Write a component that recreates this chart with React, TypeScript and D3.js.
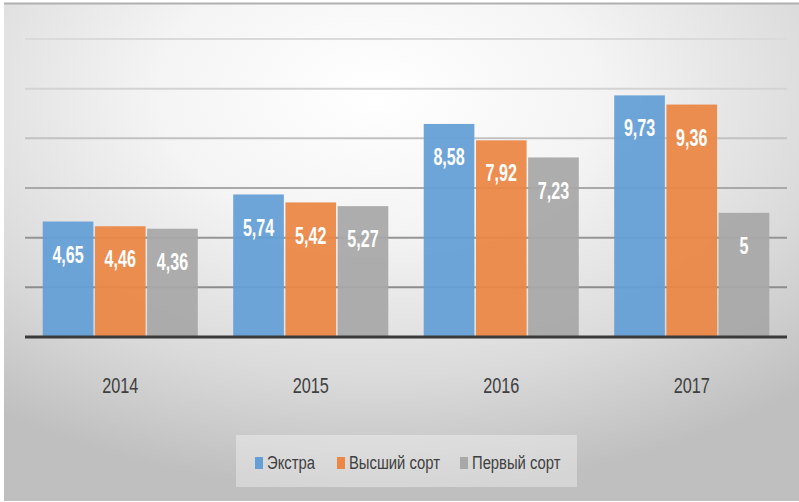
import React from "react";
import * as d3 from "d3";

const categories = ["2014", "2015", "2016", "2017"];
const seriesNames = ["Экстра", "Высший сорт", "Первый сорт"];
const extra = [4.65, 5.74, 8.58, 9.73];
const higher = [4.46, 5.42, 7.92, 9.36];
const first = [4.36, 5.27, 7.23, 5];
const gridTicks = [2, 4, 6, 8, 10, 12];
const colors = ["#659fd6", "#ec8746", "#a8a8a8"];
const gridColors = ["#8c8c8c", "#959595", "#a9a9a9", "#c2c2c2", "#d3d3d3", "#dadada"];

const W = 799;
const H = 502;
const FONT = "'Liberation Sans', Arial, sans-serif";

function NarrowText(props: {
  x: number;
  y: number;
  sx: number;
  anchor?: "start" | "middle" | "end";
  size: number;
  fill: string;
  bold?: boolean;
  children: React.ReactNode;
}) {
  return (
    <g transform={`translate(${props.x},${props.y}) scale(${props.sx},1)`}>
      <text
        x={0}
        y={0}
        textAnchor={props.anchor || "start"}
        dominantBaseline="central"
        fill={props.fill}
        fontWeight={props.bold ? "bold" : "normal"}
        fontSize={props.size}
      >
        {props.children}
      </text>
    </g>
  );
}

export default function App() {
  const series = [extra, higher, first];
  const x0 = d3.scaleBand<string>().domain(categories).range([25, 787]).paddingInner(0.186).paddingOuter(0.093);
  const x1 = d3.scaleBand<number>().domain([0, 1, 2]).range([0, x0.bandwidth()]).paddingInner(0.03);
  const y = d3.scaleLinear().domain([0, 12]).range([337, 39]);

  const legendItems = [
    { name: seriesNames[0], mx: 255, tx: 267 },
    { name: seriesNames[1], mx: 337, tx: 349 },
    { name: seriesNames[2], mx: 460, tx: 472 },
  ];

  return (
    <svg width={W} height={H} style={{ position: "absolute", left: 0, top: 0 }} fontFamily={FONT}>
      <defs>
        <radialGradient id="bg" cx="0.47" cy="0.18" r="0.8" fx="0.47" fy="0.18">
          <stop offset="0" stopColor="#ffffff" />
          <stop offset="0.35" stopColor="#f4f4f4" />
          <stop offset="0.72" stopColor="#dadada" />
          <stop offset="1" stopColor="#bfbfbf" />
        </radialGradient>
      </defs>
      <rect x={0} y={0} width={W} height={H} fill="#ffffff" />
      <rect x={4} y={3} width={W - 4} height={H - 4} fill="url(#bg)" />
      <line x1={4} x2={W} y1={3.5} y2={3.5} stroke="#b0b0b0" strokeWidth={2} />

      {gridTicks.map((t, i) => (
        <line key={t} x1={25} x2={787} y1={y(t)} y2={y(t)} stroke={gridColors[i]} strokeWidth={2} />
      ))}

      {categories.map((c, ci) => (
        <g key={c} transform={`translate(${x0(c)},0)`}>
          {series.map((s, si) => {
            const bx = x1(si)!;
            const bw = x1.bandwidth();
            const top = y(s[ci]);
            return (
              <g key={si}>
                <rect x={bx} y={top} width={bw} height={y(0) - top} fill={colors[si]} fillOpacity={0.94} />
                <NarrowText x={bx + bw / 2} y={top + 33} sx={0.7} anchor="middle" size={23} fill="#ffffff" bold>
                  {String(s[ci]).replace(".", ",")}
                </NarrowText>
              </g>
            );
          })}
          <NarrowText x={x0.bandwidth() / 2} y={385} sx={0.74} anchor="middle" size={22} fill="#404040">
            {c}
          </NarrowText>
        </g>
      ))}

      <line x1={25} x2={787} y1={y(0)} y2={y(0)} stroke="#3a3a3a" strokeWidth={3} />

      <rect x={236} y={435} width={341} height={52} fill="#ffffff" fillOpacity={0.35} />
      {legendItems.map((it, i) => (
        <g key={it.name}>
          <rect x={it.mx} y={457} width={8} height={12} fill={colors[i]} />
          <NarrowText x={it.tx} y={463} sx={0.78} size={19} fill="#404040">
            {it.name}
          </NarrowText>
        </g>
      ))}
    </svg>
  );
}
